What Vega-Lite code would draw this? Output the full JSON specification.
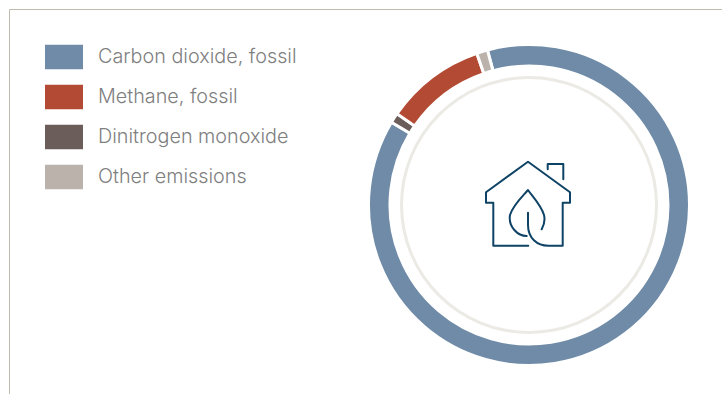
{
"$schema":"https://vega.github.io/schema/vega-lite/v6.json",
"width":713,"height":385,
"autosize":{"type":"none"},
"padding":{"left":9,"top":9,"right":0,"bottom":0},
"background":"white",
"config":{"view":{"stroke":null}},
"encoding":{
 "x":{"datum":520,"type":"quantitative","scale":{"domain":[0,713],"nice":false,"zero":false},"axis":{"orient":"top","title":null,"grid":false,"ticks":false,"labels":false,"domainColor":"#bfbbad","domainWidth":1}},
 "y":{"datum":196,"type":"quantitative","scale":{"domain":[0,385],"reverse":true,"nice":false,"zero":false},"axis":{"orient":"left","title":null,"grid":false,"ticks":false,"labels":false,"domainColor":"#bfbbad","domainWidth":1}}
},
"layer":[
 {"data":{"values":[{"item":"ring"}]},
  "mark":{"type":"arc","radius":129,"radius2":126,"color":"#ebeae5"},
  "encoding":{}},
 {"data":{"values":[
   {"gas":"Carbon dioxide, fossil","share":87.8,"seq":1},
   {"gas":"Dinitrogen monoxide","share":1.0,"seq":2},
   {"gas":"Methane, fossil","share":10.1,"seq":3},
   {"gas":"Other emissions","share":1.1,"seq":4}]},
  "mark":{"type":"arc","radius":160.5,"radius2":139,"stroke":"white","strokeWidth":3},
  "encoding":{
   "theta":{"field":"share","type":"quantitative","stack":true,"scale":{"range":[-0.262,6.021]}},
   "order":{"field":"seq","type":"quantitative"},
   "color":{"field":"gas","type":"nominal",
     "scale":{"domain":["Carbon dioxide, fossil","Methane, fossil","Dinitrogen monoxide","Other emissions"],"range":["#6f8ba8","#b34a33","#6b5d5a","#bbb3ab"]},
     "legend":{"orient":"none","legendX":36,"legendY":35.5,"title":null,"symbolType":"M-1,-0.66H1V0.66H-1Z","symbolSize":1444,"symbolStrokeWidth":0,"symbolOpacity":1,"labelFont":"Inter","labelFontWeight":300,"labelFontSize":19.8,"labelColor":"#808080","labelOffset":15,"rowPadding":15,"labelLimit":300,"clipHeight":25}}
  }},
 {"data":{"values":[{"item":"icon"}]},
  "mark":{"type":"point","filled":false,"size":4,"opacity":1,"stroke":"#0f4366","strokeWidth":2,"strokeJoin":"round","strokeCap":"round",
   "shape":"M-0.7,40.7 L-35.7,40.7 L-35.7,-2.3 L-43,-2.3 L-43,-12.7 L-1,-43.3 L41,-12.7 L41,-2.3 L33.7,-2.3 L33.7,40.7 L19.3,40.7 C8,40.7 -1,33 -1,20 L-1,7.7 M18.7,-35.7 L18.7,-41 L34.3,-41 L34.3,-25.7 M12.7,24.3 C15,20 16,14 15,10 C12,0 3,-9 -1,-15 C-6,-9 -16,0 -19,10 C-21,22 -11,31 -2.3,31"},
  "encoding":{}}
]
}
